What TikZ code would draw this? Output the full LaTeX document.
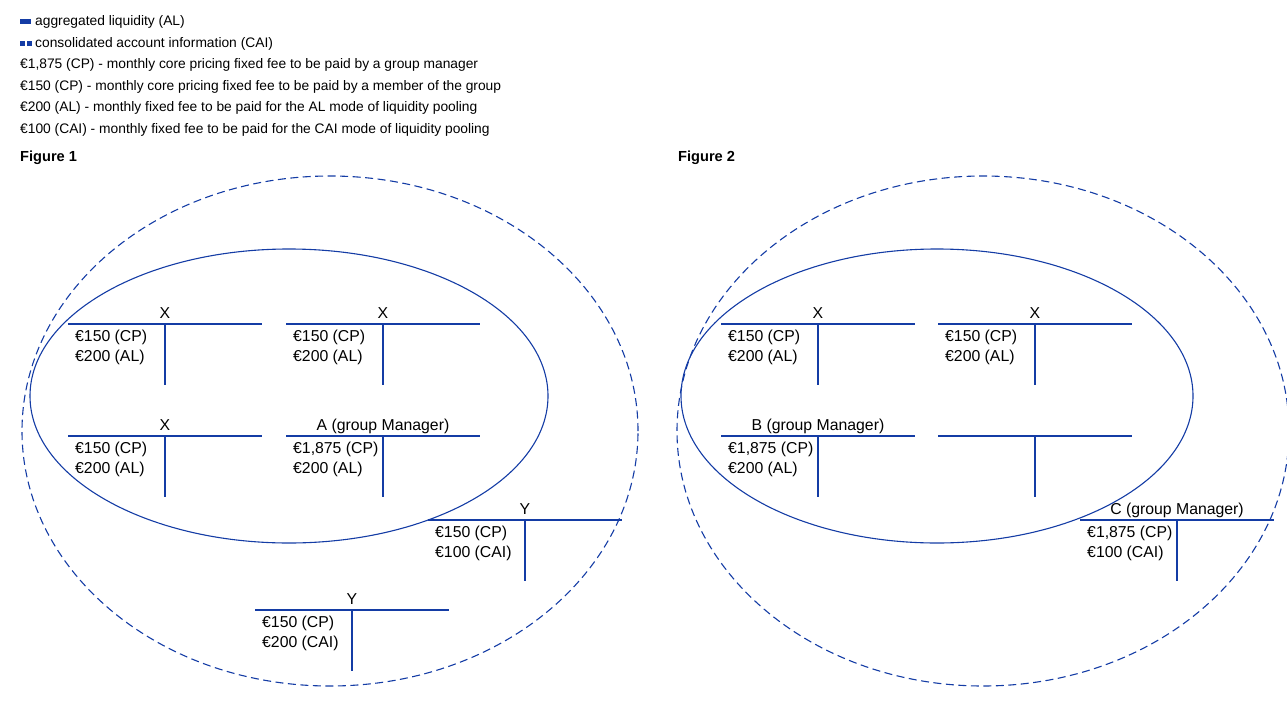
\documentclass[tikz,border=0pt]{standalone}
\usepackage{fontspec}
\setmainfont{Liberation Sans}
\usepackage{tikz}
\usetikzlibrary{positioning, calc}
\definecolor{ecb_blue}{RGB}{20, 60, 165}
\tikzset {
  tline/.style = {draw=ecb_blue, line width=1.1pt},
  poolring/.style = {draw=ecb_blue, line width=1.1pt},
  groupring/.style = {draw=ecb_blue, line width=1.1pt, dash pattern=on 8pt off 4.5pt},
  acctitle/.style = {anchor=base, inner sep=0, font=\fontsize{15.8}{18}\selectfont},
  accentry/.style = {anchor=north west, inner sep=0, align=left, font=\fontsize{15.8}{19.5}\selectfont},
  legendtext/.style = {anchor=west, inner sep=0, font=\fontsize{13.8}{16}\selectfont},
  figlabel/.style = {anchor=west, inner sep=0, font=\bfseries\fontsize{14.6}{17}\selectfont}
}
% one T-account: name, position, title, first entry, second entry
\newcommand{\taccount}[5]{
  \coordinate (#1) at #2;
  \node[acctitle] (#1-title) at ([yshift=6pt]#1) {#3};
  \coordinate (#1-left) at ([xshift=-97pt]#1);
  \coordinate (#1-right) at ([xshift=97pt]#1);
  \coordinate (#1-foot) at ([yshift=-61pt]#1);
  \draw[tline] (#1-left) -- (#1-right);
  \draw[tline] (#1) -- (#1-foot);
  \node[accentry] (#1-entries) at ([xshift=-90pt, yshift=-6pt]#1) {#4\\#5};
}

\begin{document}
\begin{tikzpicture}[x=1pt, y=-1pt]
    \useasboundingbox (0,0) rectangle (1287,704);

    % legend
    \fill[ecb_blue] (20,18.5) rectangle (31,23.5);
    \fill[ecb_blue] (20,40.5) rectangle (25,45.5);
    \fill[ecb_blue] (27,40.5) rectangle (32,45.5);
    \node[legendtext] (leg_al) at (35,21.5) {aggregated liquidity (AL)};
    \node[legendtext] (leg_cai) at (35,43.5) {consolidated account information (CAI)};
    \node[legendtext] (leg_gm) at (20,65) {€1,875 (CP) - monthly core pricing fixed fee to be paid by a group manager};
    \node[legendtext] (leg_mem) at (20,86.5) {€150 (CP) - monthly core pricing fixed fee to be paid by a member of the group};
    \node[legendtext] (leg_alfee) at (20,108) {€200 (AL) - monthly fixed fee to be paid for the AL mode of liquidity pooling};
    \node[legendtext] (leg_caifee) at (20,129.5) {€100 (CAI) - monthly fixed fee to be paid for the CAI mode of liquidity pooling};

    % Figure 1
    \node[figlabel] (fig1) at (20,157.5) {Figure 1};
    \draw[groupring] (330,431) ellipse [x radius=308pt, y radius=255pt];
    \draw[poolring] (289,396) ellipse [x radius=259pt, y radius=147pt];
    \taccount{a1}{(165,324)}{X}{€150 (CP)}{€200 (AL)}
    \taccount{a2}{(383,324)}{X}{€150 (CP)}{€200 (AL)}
    \taccount{a3}{(165,436)}{X}{€150 (CP)}{€200 (AL)}
    \taccount{a4}{(383,436)}{A (group Manager)}{€1,875 (CP)}{€200 (AL)}
    \taccount{a5}{(525,520)}{Y}{€150 (CP)}{€100 (CAI)}
    \taccount{a6}{(352,610)}{Y}{€150 (CP)}{€200 (CAI)}

    % Figure 2
    \node[figlabel] (fig2) at (678,157.5) {Figure 2};
    \draw[groupring] (983,431) ellipse [x radius=306pt, y radius=255pt];
    \draw[poolring] (937,396) ellipse [x radius=256pt, y radius=147pt];
    \taccount{b1}{(818,324)}{X}{€150 (CP)}{€200 (AL)}
    \taccount{b2}{(1035,324)}{X}{€150 (CP)}{€200 (AL)}
    \taccount{b3}{(818,436)}{B (group Manager)}{€1,875 (CP)}{€200 (AL)}
    \taccount{b4}{(1035,436)}{}{}{}
    \taccount{b5}{(1177,520)}{C (group Manager)}{€1,875 (CP)}{€100 (CAI)}

  \end{tikzpicture}
\end{document}
